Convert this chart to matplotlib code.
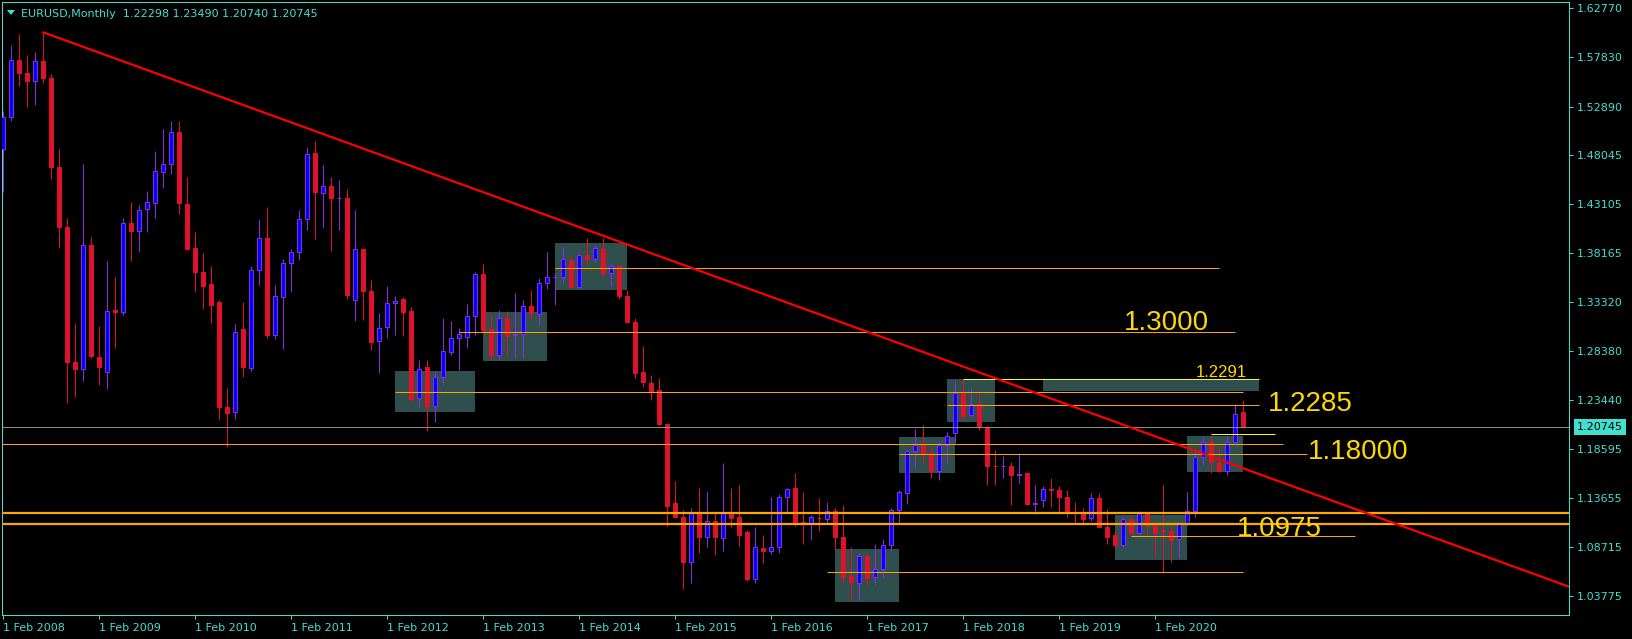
import numpy as np
import matplotlib
matplotlib.use("Agg")
import matplotlib.pyplot as plt
from matplotlib.patches import Rectangle, Polygon
from matplotlib.transforms import blended_transform_factory

# EURUSD monthly bars, Feb 2008 .. Jan 2021 (one row per year)
opens = [
    1.4860, 1.5180, 1.5760, 1.5622, 1.5550, 1.5745, 1.5580, 1.4685, 1.4085, 1.2730, 1.2660,
    1.3900, 1.2780, 1.2625, 1.3250, 1.3225, 1.4118, 1.4040, 1.4260, 1.4325, 1.4633, 1.4710, 1.5030,
    1.4310, 1.3870, 1.3630, 1.3510, 1.3330, 1.2280, 1.2223, 1.3055, 1.2670, 1.3645, 1.3970, 1.2995,
    1.3380, 1.3720, 1.3830, 1.4160, 1.4820, 1.4420, 1.4490, 1.4370, 1.4370, 1.3350, 1.3860, 1.3440,
    1.2940, 1.3075, 1.3316, 1.3359, 1.3239, 1.2363, 1.2677, 1.2289, 1.2574, 1.2831, 1.2965, 1.2981,
    1.3189, 1.3606, 1.3054, 1.2797, 1.3165, 1.2998, 1.3003, 1.3285, 1.3205, 1.3516, 1.3576, 1.3576,
    1.3750, 1.3483, 1.3797, 1.3760, 1.3857, 1.3623, 1.3690, 1.3387, 1.3128, 1.2631, 1.2517, 1.2447,
    1.2102, 1.1310, 1.1176, 1.0718, 1.1208, 1.0975, 1.1130, 1.0965, 1.1210, 1.1170, 1.1020, 1.0555,
    1.0860, 1.0830, 1.0869, 1.1370, 1.1460, 1.1123, 1.1100, 1.1165, 1.1150, 1.1233, 1.0969, 1.0580,
    1.0508, 1.0785, 1.0570, 1.0650, 1.0890, 1.1240, 1.1410, 1.1835, 1.1895, 1.1810, 1.1637, 1.1895,
    1.2012, 1.2413, 1.2196, 1.2310, 1.2073, 1.1688, 1.1683, 1.1688, 1.1597, 1.1610, 1.1305, 1.1340,
    1.1450, 1.1444, 1.1370, 1.1212, 1.1210, 1.1160, 1.1363, 1.1069, 1.0992, 1.0892, 1.1148, 1.1015,
    1.1210, 1.1090, 1.1040, 1.1030, 1.0949, 1.1113, 1.1230, 1.1778, 1.1920, 1.1717, 1.1637, 1.1922,
    1.22298,
]
highs = [
    1.5240, 1.5905, 1.6018, 1.5810, 1.5840, 1.6033, 1.5620, 1.4860, 1.4168, 1.3120, 1.4713,
    1.3980, 1.3088, 1.3740, 1.3580, 1.4170, 1.4335, 1.4302, 1.4442, 1.4843, 1.5060, 1.5144, 1.5144,
    1.4582, 1.4030, 1.3823, 1.3690, 1.3349, 1.2470, 1.3105, 1.3329, 1.3690, 1.4166, 1.4281, 1.3500,
    1.3763, 1.3860, 1.4250, 1.4886, 1.4946, 1.4700, 1.4580, 1.4550, 1.4460, 1.4251, 1.3870, 1.3549,
    1.3218, 1.3489, 1.3385, 1.3382, 1.3275, 1.2750, 1.2745, 1.2640, 1.3171, 1.3140, 1.3064, 1.3310,
    1.3625, 1.3710, 1.3200, 1.3245, 1.3240, 1.3415, 1.3345, 1.3450, 1.3570, 1.3830, 1.3620, 1.3895,
    1.3780, 1.3825, 1.3967, 1.3905, 1.3967, 1.3716, 1.3700, 1.3445, 1.3170, 1.2885, 1.2600, 1.2570,
    1.2120, 1.1534, 1.1243, 1.1260, 1.1460, 1.1430, 1.1213, 1.1710, 1.1460, 1.1494, 1.1040, 1.1075,
    1.0995, 1.1377, 1.1400, 1.1460, 1.1610, 1.1423, 1.1190, 1.1363, 1.1325, 1.1260, 1.1293, 1.0869,
    1.0815, 1.0815, 1.0902, 1.0950, 1.1265, 1.1444, 1.1845, 1.2060, 1.2095, 1.1879, 1.1928, 1.2028,
    1.2547, 1.2555, 1.2463, 1.2413, 1.2085, 1.1845, 1.1788, 1.1725, 1.1811, 1.1627, 1.1493, 1.1484,
    1.1562, 1.1484, 1.1444, 1.1323, 1.1266, 1.1410, 1.1410, 1.1249, 1.1045, 1.1176, 1.1176, 1.1233,
    1.1223, 1.1092, 1.1493, 1.1092, 1.1126, 1.1427, 1.1845, 1.1978, 1.1996, 1.1879, 1.1996, 1.2306,
    1.23490,
]
lows = [
    1.4430, 1.5140, 1.5490, 1.5280, 1.5300, 1.5520, 1.4565, 1.3873, 1.2320, 1.2380, 1.2540,
    1.2765, 1.2497, 1.2455, 1.2865, 1.3196, 1.3743, 1.3827, 1.4034, 1.4174, 1.4475, 1.4615, 1.4214,
    1.3850, 1.3432, 1.3261, 1.3115, 1.2145, 1.1875, 1.2155, 1.2580, 1.2640, 1.3500, 1.2968, 1.2960,
    1.2862, 1.3430, 1.3750, 1.4051, 1.3959, 1.4070, 1.3840, 1.4055, 1.3360, 1.3141, 1.3145, 1.2847,
    1.2620, 1.2970, 1.3000, 1.2988, 1.2326, 1.2279, 1.2040, 1.2130, 1.2496, 1.2797, 1.2646, 1.2868,
    1.2993, 1.3020, 1.2747, 1.2750, 1.2797, 1.2763, 1.2766, 1.3155, 1.3098, 1.3459, 1.3295, 1.3516,
    1.3466, 1.3465, 1.3699, 1.3730, 1.3583, 1.3492, 1.3362, 1.3114, 1.2564, 1.2480, 1.2346, 1.2100,
    1.1085, 1.1160, 1.0451, 1.0514, 1.0814, 1.0875, 1.0792, 1.0834, 1.1075, 1.0882, 1.0532, 1.0510,
    1.0714, 1.0802, 1.0815, 1.1210, 1.1082, 1.0901, 1.0942, 1.1033, 1.1116, 1.0842, 1.0510, 1.0340,
    1.0333, 1.0480, 1.0491, 1.0558, 1.0834, 1.1110, 1.1303, 1.1660, 1.1710, 1.1562, 1.1541, 1.1710,
    1.1912, 1.2145, 1.2178, 1.2045, 1.1493, 1.1493, 1.1562, 1.1290, 1.1516, 1.1290, 1.1207, 1.1270,
    1.1277, 1.1226, 1.1168, 1.1102, 1.1090, 1.1135, 1.1060, 1.0904, 1.0859, 1.0875, 1.0992, 1.0992,
    1.0982, 1.0768, 1.0618, 1.0718, 1.0759, 1.1092, 1.1176, 1.1694, 1.1610, 1.1628, 1.1595, 1.1922,
    1.20740,
]
closes = [
    1.5180, 1.5760, 1.5622, 1.5550, 1.5745, 1.5580, 1.4685, 1.4085, 1.2730, 1.2660, 1.3900,
    1.2790, 1.2675, 1.3240, 1.3230, 1.4118, 1.4040, 1.4250, 1.4330, 1.4640, 1.4708, 1.5030, 1.4325,
    1.3860, 1.3630, 1.3490, 1.3300, 1.2280, 1.2220, 1.3025, 1.2680, 1.3645, 1.3970, 1.2995, 1.3390,
    1.3720, 1.3830, 1.4160, 1.4810, 1.4430, 1.4490, 1.4370, 1.4375, 1.3400, 1.3860, 1.3440, 1.2930,
    1.3070, 1.3316, 1.3339, 1.3232, 1.2356, 1.2654, 1.2289, 1.2574, 1.2834, 1.2965, 1.3006, 1.3185,
    1.3606, 1.3049, 1.2797, 1.3165, 1.2991, 1.3003, 1.3285, 1.3215, 1.3516, 1.3576, 1.3580, 1.3757,
    1.3483, 1.3797, 1.3760, 1.3867, 1.3623, 1.3690, 1.3384, 1.3130, 1.2620, 1.2524, 1.2430, 1.2102,
    1.1286, 1.1176, 1.0718, 1.1216, 1.0970, 1.1130, 1.0975, 1.1208, 1.1160, 1.0996, 1.0550, 1.0869,
    1.0830, 1.0870, 1.1370, 1.1451, 1.1123, 1.1100, 1.1170, 1.1160, 1.1233, 1.0970, 1.0574, 1.0520,
    1.0785, 1.0560, 1.0650, 1.0889, 1.1240, 1.1420, 1.1838, 1.1895, 1.1810, 1.1637, 1.1895, 1.1990,
    1.2413, 1.2189, 1.2306, 1.2073, 1.1688, 1.1683, 1.1688, 1.1597, 1.1600, 1.1305, 1.1310, 1.1451,
    1.1445, 1.1370, 1.1209, 1.1210, 1.1155, 1.1360, 1.1069, 1.0975, 1.0892, 1.1148, 1.1008, 1.1210,
    1.1090, 1.1015, 1.1030, 1.0942, 1.1103, 1.1230, 1.1771, 1.1928, 1.1720, 1.1637, 1.1920, 1.2206,
    1.20745,
]

years = list(range(2008, 2021))
price_ticks = [1.62770, 1.57830, 1.52890, 1.48045, 1.43105, 1.38165, 1.33320,
               1.28380, 1.23440, 1.18595, 1.13655, 1.08715, 1.03775]
last_price = 1.20745

# zones drawn on the chart: first bar, last bar, bottom, top
zone_start = [49, 60, 69, 118, 130, 112, 104, 139, 148]
zone_end = [59, 68, 78, 124, 157, 119, 112, 148, 155]
zone_low = [1.2226, 1.2737, 1.3449, 1.2129, 1.2436, 1.1614, 1.0323, 1.0742, 1.1624]
zone_high = [1.2637, 1.3229, 1.3920, 1.2557, 1.2553, 1.1975, 1.0852, 1.1193, 1.1985]

# horizontal levels: price, first bar, last bar (None = whole width)
level_price = [1.3667, 1.3025, 1.2423, 1.2293, 1.1904, 1.1801, 1.0979, 1.0618]
level_start = [69, 57, 49, 118, None, 112, 141, 103]
level_end = [152, 154, 155, 157, 160, 163, 169, 155]
yellow_price = [1.2553, 1.2002]
yellow_start = [120, 151]
yellow_end = [157, 159]
thick_price = [1.1213, 1.1102]

# trend line from the 2008 high
trend_x = [5, 195.7]
trend_y = [1.6033, 1.0474]

level_labels = ['1.3000', '1.2291', '1.2285', '1.18000', '1.0975']
label_x = [140.1, 149.1, 158.1, 163.1, 154.2]
label_y = [1.3048, 1.2574, 1.2239, 1.1754, 1.0985]
label_size = [20, 12, 20, 20, 20]

W, H = 1633, 639
CYAN = '#40E0D0'
BULL = '#0000FF'
BULL_EDGE = '#8A2BE2'
BEAR = '#E0112B'
ORANGE = '#FFA500'
GOLD = '#FFD700'
ZONE = '#2F4F4F'
PX = 0.72  # one pixel in points at dpi 100

fig = plt.figure(figsize=(W / 100, H / 100), dpi=100, facecolor='black')
ax = fig.add_axes([2 / W, 1 - 615 / H, 1567 / W, 613 / H])
ax.set_facecolor('black')

o = np.array(opens)
h = np.array(highs)
l = np.array(lows)
c = np.array(closes)
x = np.arange(len(o))
bull = c > o
edge = np.where(bull, BULL_EDGE, BEAR)
fill = np.where(bull, BULL, BEAR)

# zones sit behind the candles
for xs, xe, lo, hi in zip(zone_start, zone_end, zone_low, zone_high):
    ax.add_patch(Rectangle((xs, lo), xe - xs, hi - lo, facecolor=ZONE, edgecolor='none', zorder=1))

ax.vlines(x, l, h, colors=edge, lw=PX, zorder=3)
ax.bar(x, np.abs(c - o), bottom=np.minimum(o, c), width=0.5, color=fill,
       edgecolor=edge, linewidth=PX, zorder=4)

xmin, xmax = -0.16, 195.7
ax.axhline(last_price, color='#8a8a8a', lw=PX, zorder=5)
for p, xs, xe in zip(level_price, level_start, level_end):
    ax.hlines(p, xmin if xs is None else xs, xe, color=ORANGE, lw=PX, zorder=5)
for p, xs, xe in zip(yellow_price, yellow_start, yellow_end):
    ax.hlines(p, xs, xe, color='#FFFF00', lw=PX, zorder=5)
for p in thick_price:
    ax.axhline(p, color=ORANGE, lw=2.2 * PX, zorder=5)

ax.plot(trend_x, trend_y, color='#FF0000', lw=2.2 * PX, zorder=6)

for txt, tx, ty, fs in zip(level_labels, label_x, label_y, label_size):
    ax.text(tx, ty, txt, color=GOLD, fontsize=fs, family='Liberation Sans',
            ha='left', va='baseline', zorder=7)

ax.set_xlim(xmin, xmax)
ax.set_ylim(1.01901, 1.63372)

ax.yaxis.tick_right()
ax.set_yticks(price_ticks)
ax.set_yticklabels([f'{p:.5f}' for p in price_ticks])
ax.set_xticks([12 * i for i in range(len(years))])
ax.set_xticklabels([f'1 Feb {y}' for y in years], ha='left')
ax.tick_params(axis='both', colors=CYAN, labelcolor=CYAN, labelsize=8, width=PX, length=3)
ax.tick_params(axis='y', pad=2.5)
ax.tick_params(axis='x', pad=2.5)
for s in ax.spines.values():
    s.set_color(CYAN)
    s.set_linewidth(PX)

# current price tag on the right scale
tr = blended_transform_factory(ax.transAxes, ax.transData)
ax.text(1.0052, last_price, f'{last_price:.5f}', transform=tr, color='black', fontsize=8,
        va='center', ha='left', clip_on=False, zorder=8,
        bbox=dict(boxstyle='square,pad=0.3', fc=CYAN, ec='none'))

# chart header
fig.patches.append(Polygon([(7 / W, 1 - 10 / H), (15 / W, 1 - 10 / H), (11 / W, 1 - 15 / H)],
                           closed=True, transform=fig.transFigure, facecolor=CYAN, edgecolor='none'))
fig.text(21 / W, 1 - 16.7 / H, 'EURUSD,Monthly  1.22298 1.23490 1.20740 1.20745',
         color=CYAN, fontsize=8, va='baseline', ha='left')

fig.savefig('out.png', dpi=100, facecolor='black')
